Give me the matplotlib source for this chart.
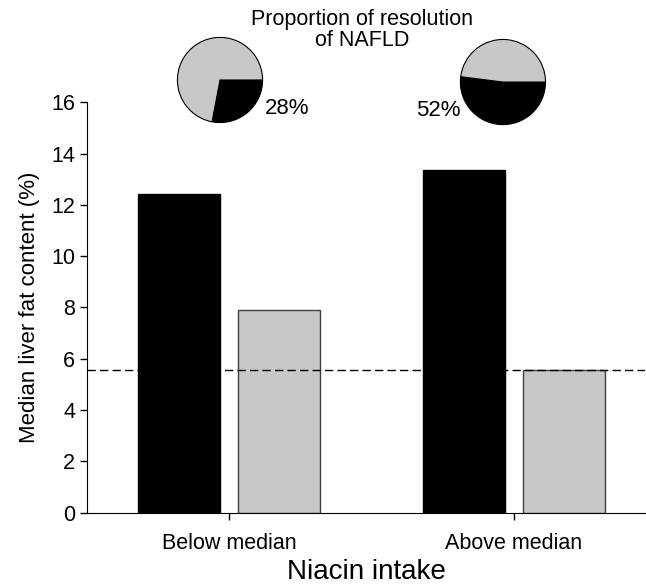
import matplotlib
matplotlib.use("Agg")
from matplotlib import pyplot as plt
import numpy as np

plt.rcParams['font.family'] = ['Liberation Sans', 'DejaVu Sans']

groups = ["Below median", "Above median"]
black_vals = [12.43, 13.37]
gray_vals = [7.89, 5.55]
ref_line = 5.56
resolution_pct = [28, 52]

GRAY = '#c8c8c8'

fig = plt.figure(figsize=(6.46, 5.87), dpi=100)
ax = fig.add_axes([0.1347, 0.1269, 0.8638, 0.6985])

x = np.arange(len(groups))
w = 0.288
ax.bar(x - 0.175, black_vals, w, color='black', edgecolor='black', linewidth=1)
ax.bar(x + 0.175, gray_vals, w, color=GRAY, edgecolor='#404040', linewidth=1)
ax.axhline(ref_line, color='black', linestyle=(0, (6, 3)), linewidth=1)

ax.set_xlim(-0.498, 1.46)
ax.set_ylim(0, 16)
ax.set_yticks(np.arange(0, 17, 2))
ax.set_xticks(x)
ax.set_xticklabels(groups, fontsize=15.5)
ax.tick_params(axis='y', labelsize=15.5, length=5, width=1, direction='out')
ax.tick_params(axis='x', length=5, width=1, direction='out', pad=10)
ax.spines['top'].set_visible(False)
ax.spines['right'].set_visible(False)
ax.set_ylabel('Median liver fat content (%)', fontsize=16, labelpad=8)
ax.set_xlabel('Niacin intake', fontsize=20, labelpad=3)

# pies showing proportion of resolution
pie_pos = [[0.274, 0.7905], [0.712, 0.787]]
label_xy = [(287, 108), (438, 110)]
for p, pos, lxy in zip(resolution_pct, pie_pos, label_xy):
    pa = fig.add_axes([pos[0], pos[1], 86 / 646, 86 / 587])
    pa.pie([p, 100 - p], colors=['black', GRAY], startangle=0, counterclock=False,
           wedgeprops={'edgecolor': 'black', 'linewidth': 0.8})
    pa.set_xlim(-1.01, 1.01)
    pa.set_ylim(-1.01, 1.01)
    pa.set_aspect('equal')
    fig.text(lxy[0] / 646, 1 - lxy[1] / 587, str(p) + "%", fontsize=16,
             ha='center', va='center')

fig.text(362 / 646, 1 - 30 / 587, "Proportion of resolution\nof NAFLD", fontsize=15.5,
         ha='center', va='center', linespacing=1.05)

plt.savefig('out.png', dpi=100)
plt.close('all')
